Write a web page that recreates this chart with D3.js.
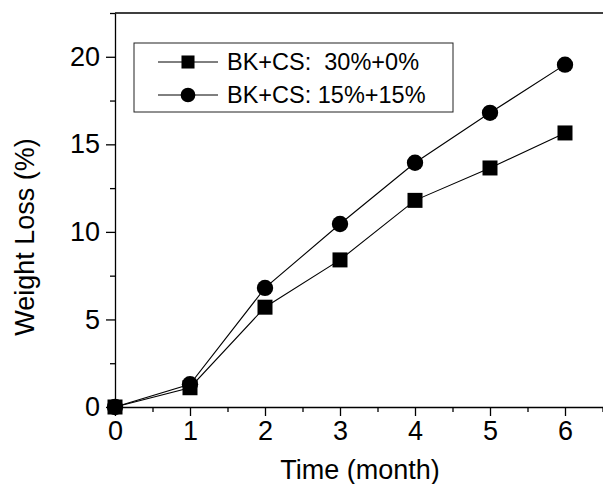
<!DOCTYPE html>
<html>
<head>
<meta charset="utf-8">
<script src="https://cdn.jsdelivr.net/npm/d3@7"></script>
<style>
  body { margin: 0; background: #fff; }
  svg { display: block; }
  text { font-family: "Liberation Sans", Arial, sans-serif; fill: #000; }
</style>
</head>
<body>
<svg id="chart"></svg>
<script>
const months = [0, 1, 2, 3, 4, 5, 6];
const bk30cs0 = [0, 1.1, 5.7, 8.4, 11.8, 13.65, 15.65];
const bk15cs15 = [0, 1.3, 6.8, 10.45, 13.95, 16.8, 19.55];
const seriesNames = ["BK+CS:  30%+0%", "BK+CS: 15%+15%"];
const xTicks = [0, 1, 2, 3, 4, 5, 6];
const yTicks = [0, 5, 10, 15, 20];

let width = 603, height = 484;
let margin = {top: 13, left: 115, bottom: 77};

let svg = d3.select("#chart").attr("width", width).attr("height", height);

// scales
let xScale = d3.scaleLinear().domain([0, 6.6]).range([margin.left, margin.left + 6.6 * 75]);
let yScale = d3.scaleLinear().domain([0, 22.5]).range([height - margin.bottom, margin.top]);

let x0 = xScale(0), y0 = yScale(0), yTop = yScale(22.5), xEnd = xScale(6.6);

// frame (top + right border)
svg.append("path")
  .attr("d", `M${x0},${yTop}H${xEnd}V${y0}`)
  .attr("fill", "none").attr("stroke", "#000").attr("stroke-width", 1.3);

// minor ticks
svg.append("g").attr("transform", `translate(0,${y0})`)
  .call(d3.axisBottom(xScale).tickValues(d3.range(0.5, 6.6, 1)).tickSize(5).tickFormat(""))
  .call(g => g.select(".domain").remove());
svg.append("g").attr("transform", `translate(${x0},0)`)
  .call(d3.axisLeft(yScale).tickValues([2.5, 7.5, 12.5, 17.5, 22.5]).tickSize(5).tickFormat(""))
  .call(g => g.select(".domain").remove());

// major axes
svg.append("g").attr("transform", `translate(0,${y0})`)
  .call(d3.axisBottom(xScale).tickValues(xTicks).tickFormat(d3.format("d")).tickSize(9).tickPadding(5).tickSizeOuter(0));
svg.append("g").attr("transform", `translate(${x0},0)`)
  .call(d3.axisLeft(yScale).tickValues(yTicks).tickFormat(d3.format("d")).tickSize(9).tickPadding(6).tickSizeOuter(0));

svg.selectAll(".tick line, .domain").attr("stroke", "#000").attr("stroke-width", 1.3);
svg.selectAll(".tick text").attr("font-size", 27).attr("font-family", "Liberation Sans, Arial, sans-serif").attr("fill", "#000");

// axis titles
svg.append("text")
  .attr("x", 360).attr("y", 479)
  .attr("text-anchor", "middle").attr("font-size", 27)
  .text("Time (month)");
svg.append("text")
  .attr("transform", `translate(34,${237}) rotate(-90)`)
  .attr("text-anchor", "middle").attr("font-size", 27)
  .text("Weight Loss (%)");

let line = d3.line().x((d, i) => xScale(months[i])).y(d => yScale(d));
let data = [bk30cs0, bk15cs15];

data.forEach((s, k) => {
  svg.append("path").datum(s)
    .attr("d", line).attr("fill", "none")
    .attr("stroke", "#000").attr("stroke-width", 1.1);
});

let sym = [d3.symbol().type(d3.symbolSquare).size(225), d3.symbol().type(d3.symbolCircle).size(210)];
let legSym = [d3.symbol().type(d3.symbolSquare).size(170), d3.symbol().type(d3.symbolCircle).size(170)];

data.forEach((s, k) => {
  svg.append("g").selectAll("path").data(s)
    .enter().append("path")
    .attr("transform", (d, i) => `translate(${xScale(months[i])},${yScale(d)})`)
    .attr("d", sym[k]).attr("fill", "#000");
});

// legend
let legend = svg.append("g");
legend.append("rect")
  .attr("x", 134).attr("y", 43).attr("width", 319).attr("height", 69)
  .attr("fill", "#fff").attr("stroke", "#222").attr("stroke-width", 1);
seriesNames.forEach((name, k) => {
  let ly = 62 + k * 33;
  legend.append("line").attr("x1", 158).attr("x2", 218).attr("y1", ly).attr("y2", ly)
    .attr("stroke", "#000").attr("stroke-width", 1);
  legend.append("path").attr("transform", `translate(188,${ly})`).attr("d", legSym[k]).attr("fill", "#000");
  legend.append("text").attr("x", 227).attr("y", ly + 8).attr("font-size", 23.5)
    .style("white-space", "pre")
    .text(name);
});
</script>
</body>
</html>
